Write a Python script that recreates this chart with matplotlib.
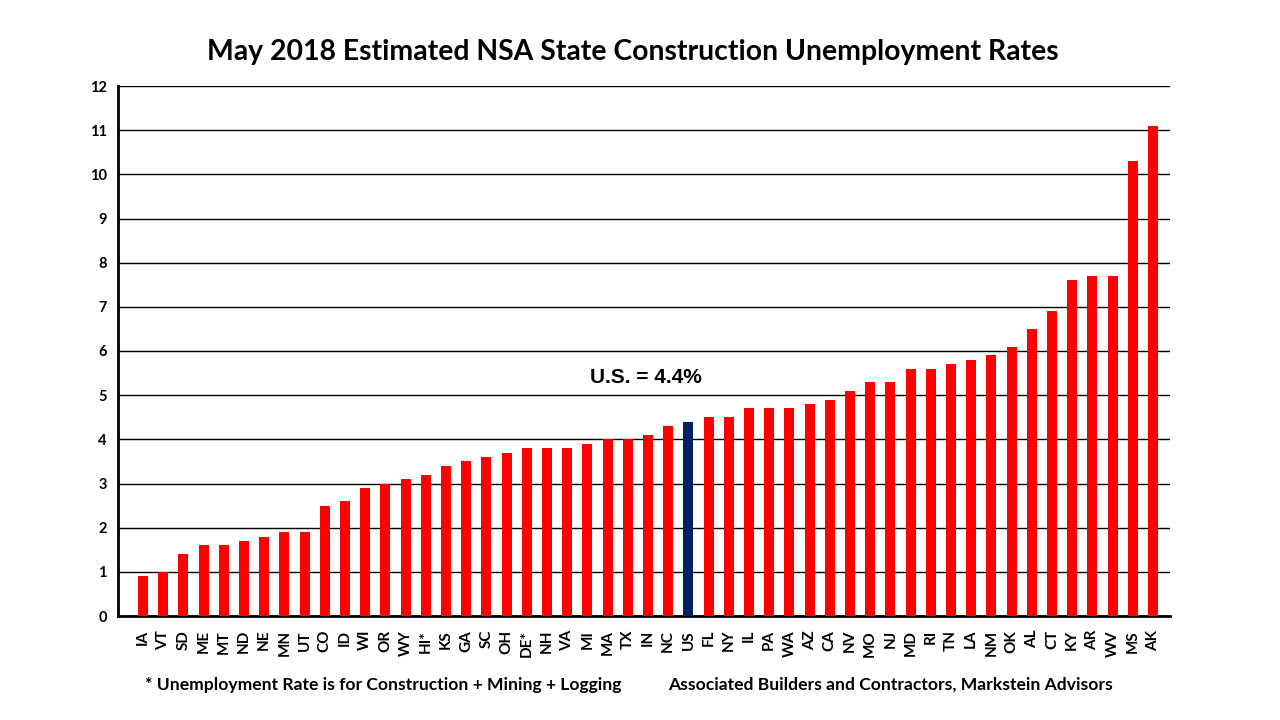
import matplotlib.pyplot as plt
import numpy as np

states = ['IA', 'VT', 'SD', 'ME', 'MT', 'ND', 'NE', 'MN', 'UT', 'CO',
          'ID', 'WI', 'OR', 'WY', 'HI*', 'KS', 'GA', 'SC', 'OH', 'DE*',
          'NH', 'VA', 'MI', 'MA', 'TX', 'IN', 'NC', 'US', 'FL', 'NY',
          'IL', 'PA', 'WA', 'AZ', 'CA', 'NV', 'MO', 'NJ', 'MD', 'RI',
          'TN', 'LA', 'NM', 'OK', 'AL', 'CT', 'KY', 'AR', 'WV', 'MS', 'AK']
rates = [0.9, 1.0, 1.4, 1.6, 1.6, 1.7, 1.8, 1.9, 1.9, 2.5,
         2.6, 2.9, 3.0, 3.1, 3.2, 3.4, 3.5, 3.6, 3.7, 3.8,
         3.8, 3.8, 3.9, 4.0, 4.0, 4.1, 4.3, 4.4, 4.5, 4.5,
         4.7, 4.7, 4.7, 4.8, 4.9, 5.1, 5.3, 5.3, 5.6, 5.6,
         5.7, 5.8, 5.9, 6.1, 6.5, 6.9, 7.6, 7.7, 7.7, 10.3, 11.1]
yticks = list(range(0, 13))

font = ['Lato', 'DejaVu Sans']

colors = ['#002060' if s == 'US' else '#FF0000' for s in states]
X = np.arange(len(states))

fig = plt.figure(figsize=(12.8, 7.2), dpi=100)
ax = fig.add_axes([118 / 1280, 104 / 720, 1052 / 1280, 530 / 720])
ax.bar(X, rates, color=colors, width=0.5, zorder=3)

ax.set_xlim(-1.24, 50.84)
ax.set_ylim(0, 12)
ax.set_yticks(yticks)
ax.set_yticklabels([str(t) for t in yticks], family=font, fontweight='bold', fontsize=10.5)
ax.set_xticks(X)
ax.set_xticklabels(states, rotation=90, family=font, fontweight='bold', fontsize=11)
ax.tick_params(axis='both', length=0, pad=8)
ax.tick_params(axis='x', pad=10)

ax.yaxis.grid(True, color='black', linewidth=1.0, zorder=0)
for side in ['top', 'right']:
    ax.spines[side].set_visible(False)
ax.spines['left'].set_linewidth(2)
ax.spines['bottom'].set_linewidth(2)

us_idx = states.index('US')
ax.text(us_idx - 2.13, 5.41, 'U.S. = 4.4%', ha='center', va='center',
        family=['Liberation Sans', 'DejaVu Sans'], fontweight='bold', fontsize=15)

fig.text(633 / 1280, 1 - 52 / 720, 'May 2018 Estimated NSA State Construction Unemployment Rates',
         ha='center', va='center', family=font, fontweight='bold', fontsize=20.4)
fig.text(145 / 1280, 1 - 685 / 720, '* Unemployment Rate is for Construction + Mining + Logging',
         ha='left', va='center', family=font, fontweight='bold', fontsize=12.6)
fig.text(668 / 1280, 1 - 685 / 720, 'Associated Builders and Contractors, Markstein Advisors',
         ha='left', va='center', family=font, fontweight='bold', fontsize=12.6)

fig.savefig('out.png', dpi=100)
